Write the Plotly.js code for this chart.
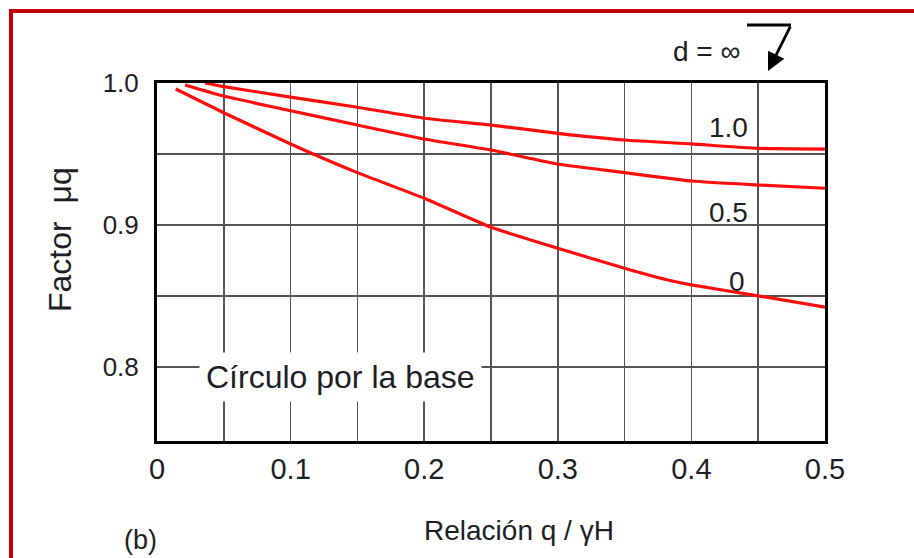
<!DOCTYPE html>
<html>
<head>
<meta charset="utf-8">
<script src="https://cdn.plot.ly/plotly-3.0.1.min.js"></script>
<style>
  html, body { margin: 0; padding: 0; background: #ffffff; }
  #chart { width: 914px; height: 558px; }
</style>
</head>
<body>
<div id="chart"></div>
<script>
// Factor μq versus q / γH, circle through the toe, for d = 0, 0.5 and 1.0
const qRatio_d10 = [0.036, 0.05, 0.10, 0.15, 0.20, 0.25, 0.30, 0.35, 0.40, 0.45, 0.50];
const muq_d10    = [1.000, 0.9974, 0.9901, 0.9829, 0.9752, 0.9704, 0.9646, 0.9599, 0.9571, 0.9540, 0.9535];

const qRatio_d05 = [0.021, 0.05, 0.10, 0.15, 0.20, 0.25, 0.30, 0.35, 0.40, 0.45, 0.50];
const muq_d05    = [0.9986, 0.9908, 0.9805, 0.9704, 0.9606, 0.9528, 0.9430, 0.9369, 0.9310, 0.9282, 0.9259];

const qRatio_d0  = [0.014, 0.05, 0.10, 0.15, 0.20, 0.25, 0.30, 0.35, 0.38, 0.40, 0.45, 0.50];
const muq_d0     = [0.9958, 0.9791, 0.9571, 0.9369, 0.9189, 0.8985, 0.8837, 0.8696, 0.8619, 0.8579, 0.8502, 0.8422];

// curve labels: text and where it sits
const curveLabels = ['1.0', '0.5', '0'];
const curveLabelX = [0.428, 0.428, 0.434];
const curveLabelY = [0.969, 0.909, 0.860];

// axis ticks (grid every 0.05, labels every 0.1)
const xTickVals = [0, 0.05, 0.10, 0.15, 0.20, 0.25, 0.30, 0.35, 0.40, 0.45, 0.50];
const xTickText = ['0', '', '0.1', '', '0.2', '', '0.3', '', '0.4', '', '0.5'];
const yTickVals = [0.80, 0.85, 0.90, 0.95, 1.00];
const yTickText = ['0.8', '', '0.9', '', '1.0'];

const RED = '#ff0d0d';
const INK = '#1e1e26';
const FONT = 'Liberation Sans, Arial, Helvetica, sans-serif';

function curve(x, y) {
  return {
    x: x, y: y, type: 'scatter', mode: 'lines',
    line: { color: RED, width: 3.2, shape: 'spline', smoothing: 0.5 },
    hoverinfo: 'skip', showlegend: false, cliponaxis: true
  };
}

const data = [
  curve(qRatio_d10, muq_d10),
  curve(qRatio_d05, muq_d05),
  curve(qRatio_d0, muq_d0)
];

const annotations = curveLabels.map((t, i) => ({
  text: t, x: curveLabelX[i], y: curveLabelY[i], xref: 'x', yref: 'y',
  showarrow: false, xanchor: 'center', yanchor: 'middle',
  font: { family: FONT, size: 28, color: INK }
}));

annotations.push(
  {
    text: 'Círculo por la base', x: 0.137, y: 0.793, xref: 'x', yref: 'y',
    showarrow: false, xanchor: 'center', yanchor: 'middle',
    bgcolor: '#ffffff', borderpad: 6,
    font: { family: FONT, size: 32, color: INK }
  },
  {
    text: 'Relación q / γH', x: 0.542, y: -0.249, xref: 'paper', yref: 'paper',
    showarrow: false, xanchor: 'center', yanchor: 'middle',
    font: { family: FONT, size: 28, color: INK }
  },
  {
    text: '(b)', x: -0.0254, y: -0.2765, xref: 'paper', yref: 'paper',
    showarrow: false, xanchor: 'center', yanchor: 'middle',
    font: { family: FONT, size: 27, color: INK }
  },
  {
    text: 'Factor  μq', x: -0.1452, y: 0.5615, xref: 'paper', yref: 'paper',
    textangle: -90, showarrow: false, xanchor: 'center', yanchor: 'middle',
    font: { family: FONT, size: 32, color: INK }
  },
  {
    text: 'd = ∞', x: 0.8219, y: 1.0866, xref: 'paper', yref: 'paper',
    showarrow: false, xanchor: 'center', yanchor: 'middle',
    font: { family: FONT, size: 28, color: INK }
  },
  {
    // arrow pointing down at the d = ∞ limit (top of the chart)
    text: '', x: 0.9147, y: 1.0335, xref: 'paper', yref: 'paper',
    showarrow: true, ax: 23, ay: -46, axref: 'pixel', ayref: 'pixel',
    arrowhead: 2, arrowsize: 1.3, arrowwidth: 2.8, arrowcolor: '#000000'
  }
);

const shapes = [
  // frame line around the figure
  {
    type: 'rect', xref: 'paper', yref: 'paper',
    x0: -0.2186, x1: 1.2, y0: -0.4, y1: 1.2011,
    line: { color: '#c00000', width: 4 }, fillcolor: 'rgba(0,0,0,0)', layer: 'below'
  },
  // horizontal bar of the d = ∞ pointer
  {
    type: 'line', xref: 'paper', yref: 'paper',
    x0: 0.8832, x1: 0.9491, y0: 1.162, y1: 1.162,
    line: { color: '#000000', width: 2.8 }
  }
];

const axisCommon = {
  showline: true, mirror: true, linecolor: '#000000', linewidth: 3,
  showgrid: true, gridcolor: '#555555', gridwidth: 1.6,
  zeroline: false, ticks: '', fixedrange: true,
  tickmode: 'array'
};

const layout = {
  width: 914, height: 558,
  margin: { l: 157, r: 89, t: 83, b: 117, pad: 0 },
  paper_bgcolor: '#ffffff', plot_bgcolor: '#ffffff',
  font: { family: FONT, color: INK },
  showlegend: false,
  xaxis: Object.assign({}, axisCommon, {
    range: [0, 0.5], tickvals: xTickVals, ticktext: xTickText,
    tickfont: { family: FONT, size: 29, color: INK }, ticklabelstandoff: 0
  }),
  yaxis: Object.assign({}, axisCommon, {
    range: [0.748, 1.0], tickvals: yTickVals, ticktext: yTickText,
    tickfont: { family: FONT, size: 26, color: INK }, ticklabelstandoff: 10
  }),
  annotations: annotations,
  shapes: shapes
};

Plotly.newPlot('chart', data, layout, { staticPlot: true, displayModeBar: false });
</script>
</body>
</html>
